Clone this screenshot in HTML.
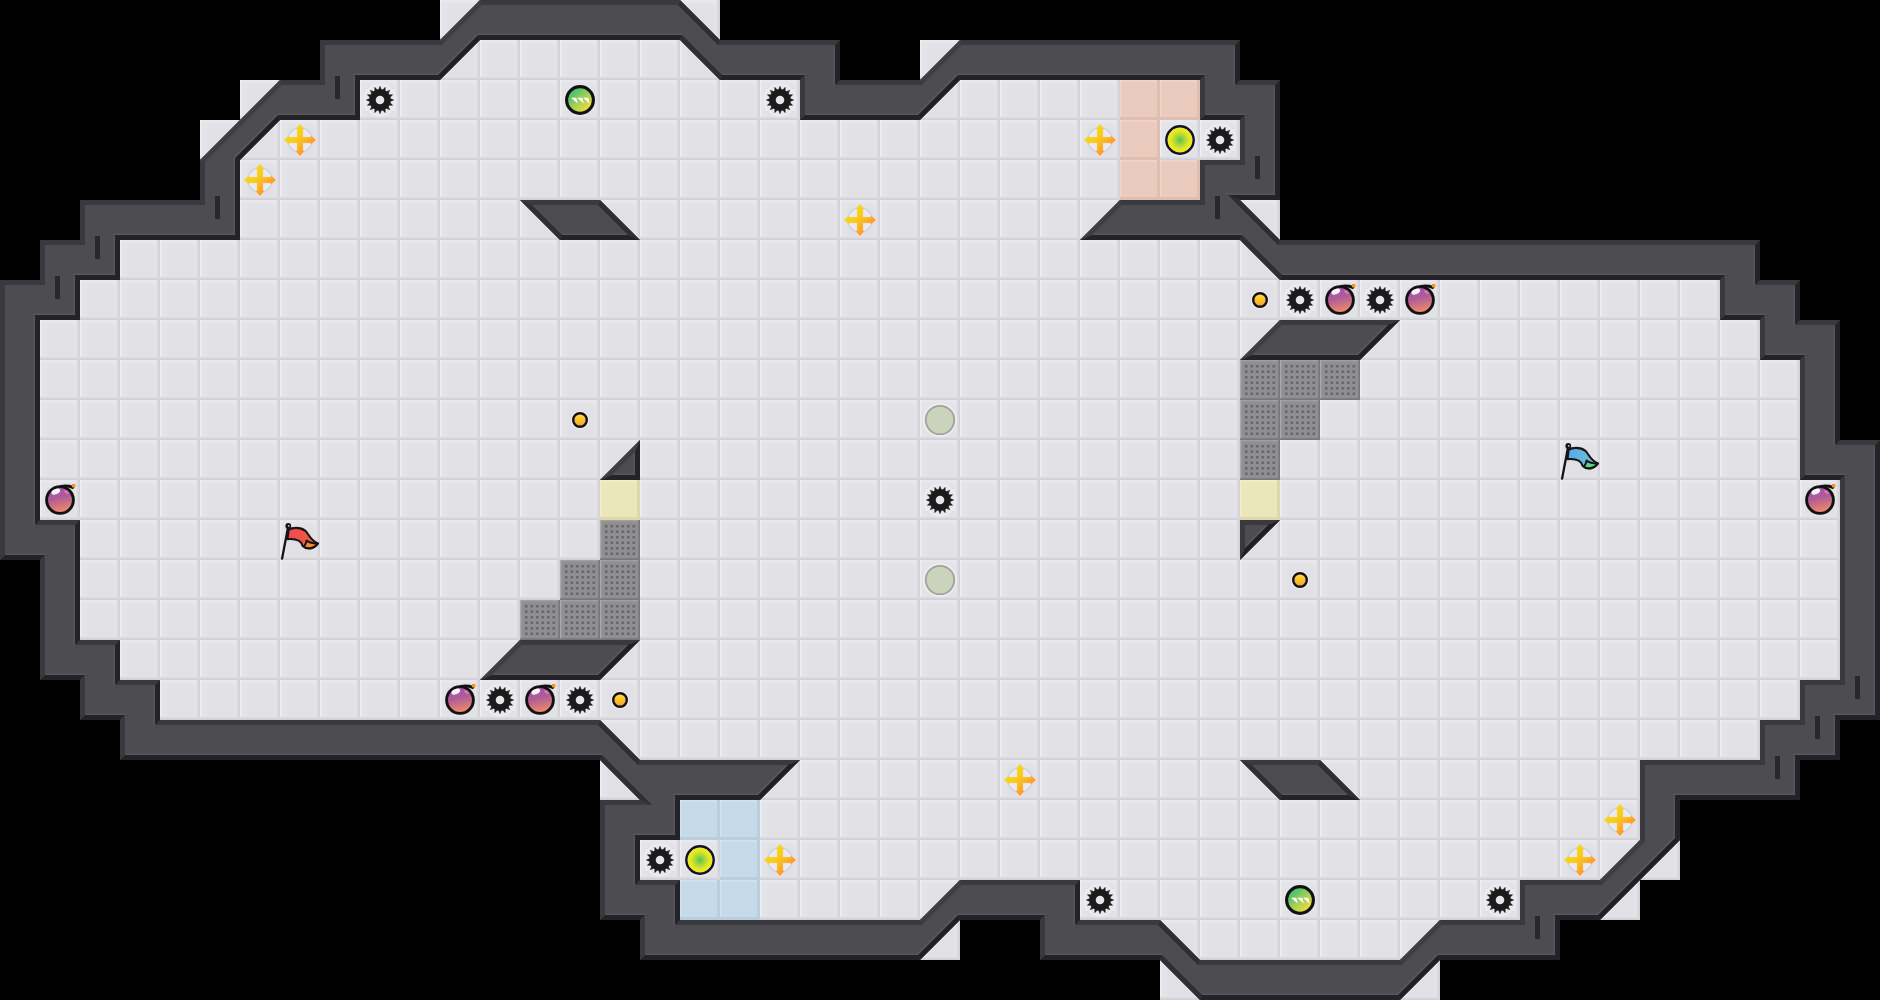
<!DOCTYPE html>
<html lang="en"><head><meta charset="utf-8"><title>Map</title>
<style>html,body{margin:0;padding:0;background:#000;overflow:hidden}svg{display:block}</style></head>
<body>
<svg width="1880" height="1000" viewBox="0 0 1880 1000">
<defs>
<linearGradient id="gR" x1="0" x2="1" y1="0" y2="0"><stop offset="0" stop-color="#e1e0e5"/><stop offset="1" stop-color="#cecdd3"/></linearGradient>
<linearGradient id="gB" x1="0" x2="0" y1="0" y2="1"><stop offset="0" stop-color="#e1e0e5"/><stop offset="1" stop-color="#cecdd3"/></linearGradient>
<pattern id="fl" width="40" height="40" patternUnits="userSpaceOnUse">
<rect width="40" height="40" fill="#e4e3e8"/>
<rect x="7" y="7.5" width="26.5" height="27" fill="#e1e0e5"/>
<rect width="40" height="2.5" fill="#e9e8ee"/>
<rect width="1.5" height="40" fill="#ededf2"/>
<rect x="36.5" width="3.5" height="40" fill="url(#gR)"/>
<rect y="36.5" width="40" height="3.5" fill="url(#gB)"/>
</pattern>
<pattern id="tr" width="40" height="40" patternUnits="userSpaceOnUse">
<rect width="40" height="40" fill="#ebcbbd"/>
<rect width="40" height="2" fill="#f0d3c6"/><rect width="1.5" height="40" fill="#f1d5c9"/>
<rect x="37" width="3" height="40" fill="#e0bfb1"/><rect y="37" width="40" height="3" fill="#e0bfb1"/>
</pattern>
<pattern id="tb" width="40" height="40" patternUnits="userSpaceOnUse">
<rect width="40" height="40" fill="#c6dae9"/>
<rect width="40" height="2" fill="#cfe1ee"/><rect width="1.5" height="40" fill="#d2e3ef"/>
<rect x="37" width="3" height="40" fill="#b9cede"/><rect y="37" width="40" height="3" fill="#b9cede"/>
</pattern>
<pattern id="ty" width="40" height="40" patternUnits="userSpaceOnUse">
<rect width="40" height="40" fill="#eae7ba"/>
<rect width="40" height="2" fill="#f0edc6"/><rect width="1.5" height="40" fill="#f1eec9"/>
<rect x="37" width="3" height="40" fill="#dcd9ac"/><rect y="37" width="40" height="3" fill="#dcd9ac"/>
</pattern>
<pattern id="tg" width="40" height="40" patternUnits="userSpaceOnUse">
<rect width="40" height="40" fill="#8f8f92"/>
<rect width="40" height="1.4" fill="#a0a0a3"/><rect width="1.5" height="40" fill="#a8a8ab"/>
<rect x="38.4" width="1.6" height="40" fill="#77777a"/><rect y="38.4" width="40" height="1.6" fill="#77777a"/>
<path id="dr" d="M5 5h2.6v2.6h-2.6zM10.5 5h2.6v2.6h-2.6zM16 5h2.6v2.6h-2.6zM21.5 5h2.6v2.6h-2.6zM27 5h2.6v2.6h-2.6zM32.5 5h2.6v2.6h-2.6z" fill="#68686c"/>
<use href="#dr" y="5.5"/><use href="#dr" y="11"/><use href="#dr" y="16.5"/><use href="#dr" y="22"/><use href="#dr" y="27.5"/>
</pattern>
<linearGradient id="gbomb" x1="0" x2="0.25" y1="0" y2="1"><stop offset="0" stop-color="#9a50b4"/><stop offset="0.5" stop-color="#ae5c98"/><stop offset="1" stop-color="#ee8668"/></linearGradient>
<linearGradient id="gcross" gradientUnits="userSpaceOnUse" x1="-9" y1="-9" x2="9" y2="9"><stop offset="0" stop-color="#f5d916"/><stop offset="0.45" stop-color="#f8c81c"/><stop offset="1" stop-color="#ff9420"/></linearGradient>
<linearGradient id="ggb" x1="0.15" x2="0.85" y1="0.1" y2="0.9"><stop offset="0" stop-color="#2fbf7a"/><stop offset="0.55" stop-color="#a8cf55"/><stop offset="1" stop-color="#fbe03a"/></linearGradient>
<radialGradient id="gyb" cx="0.5" cy="0.5" r="0.5"><stop offset="0" stop-color="#58c050"/><stop offset="0.35" stop-color="#a6d63c"/><stop offset="0.68" stop-color="#e4e824"/><stop offset="1" stop-color="#f1ee20"/></radialGradient>
<linearGradient id="gsm" x1="0" x2="0" y1="0" y2="1"><stop offset="0" stop-color="#ffe23a"/><stop offset="1" stop-color="#f5a21e"/></linearGradient>
<linearGradient id="grf" x1="0" x2="1" y1="0" y2="0"><stop offset="0" stop-color="#f24852"/><stop offset="1" stop-color="#f0603c"/></linearGradient>
<linearGradient id="gbf" x1="0" x2="1" y1="0" y2="0"><stop offset="0" stop-color="#58a8ec"/><stop offset="1" stop-color="#70c4cc"/></linearGradient>

<g id="spike"><circle r="17" fill="#fff" opacity="0.28"/><path d="M-1.44 -10.1 0 -13.7 1.44 -10.1ZM2.54 -9.88 5.24 -12.66 5.19 -8.78ZM6.12 -8.16 9.69 -9.69 8.16 -6.12ZM8.78 -5.19 12.66 -5.24 9.88 -2.54ZM10.1 -1.44 13.7 0 10.1 1.44ZM9.88 2.54 12.66 5.24 8.78 5.19ZM8.16 6.12 9.69 9.69 6.12 8.16ZM5.19 8.78 5.24 12.66 2.54 9.88ZM1.44 10.1 0 13.7 -1.44 10.1ZM-2.54 9.88 -5.24 12.66 -5.19 8.78ZM-6.12 8.16 -9.69 9.69 -8.16 6.12ZM-8.78 5.19 -12.66 5.24 -9.88 2.54ZM-10.1 1.44 -13.7 0 -10.1 -1.44ZM-9.88 -2.54 -12.66 -5.24 -8.78 -5.19ZM-8.16 -6.12 -9.69 -9.69 -6.12 -8.16ZM-5.19 -8.78 -5.24 -12.66 -2.54 -9.88Z" fill="#1b1b1c" stroke="#1b1b1c" stroke-width="0.5" stroke-linejoin="round"/><circle r="10.7" fill="#1b1b1c"/><circle r="4.3" fill="#e6e5ea"/></g>
<g id="bomb"><circle r="15.5" fill="#fff" opacity="0.15"/><path d="M1 -13.6Q8 -14.6 12.6 -12.6" fill="none" stroke="#111" stroke-width="3" stroke-linecap="round"/><circle r="13.4" fill="url(#gbomb)" stroke="#111112" stroke-width="2.9"/><ellipse cx="-4.2" cy="-8.4" rx="4.6" ry="2.6" transform="rotate(-24 -4.2 -8.4)" fill="#fff" opacity="0.95"/><ellipse cx="6.5" cy="-8" rx="2.6" ry="1.6" transform="rotate(35 6.5 -8)" fill="#ee7fb0" opacity="0.8"/><rect x="12" y="-16" width="3.4" height="3.4" fill="#f7941d"/></g>
<g id="cross"><circle r="12.2" fill="#e9e9f2" stroke="#d3d3dc" stroke-width="1.6"/><path d="M-2.7 -2.7 -2.7 -11.6 -3.9 -11 0 -15.7 3.9 -11 2.7 -11.6 2.7 -2.7 2.7 -2.7 11.6 -2.7 11 -3.9 15.7 0 11 3.9 11.6 2.7 2.7 2.7 2.7 2.7 2.7 11.6 3.9 11 0 15.7 -3.9 11 -2.7 11.6 -2.7 2.7 -2.7 2.7 -11.6 2.7 -11 3.9 -15.7 0 -11 -3.9 -11.6 -2.7 -2.7 -2.7Z" fill="url(#gcross)" stroke="url(#gcross)" stroke-width="0.6" stroke-linejoin="round"/><circle r="1.6" fill="#eed21a" stroke="#f9b23a" stroke-width="0.9"/></g>
<g id="gball"><circle r="16" fill="#fff" opacity="0.2"/><circle r="13.4" fill="url(#ggb)" stroke="#121212" stroke-width="3.2"/><path d="M-9 -2.2h5.2l1.6 5.6zM-3 -2.2h5.2l1.6 5.6zM3 -2.2h5.2l1.4 5.6z" fill="#fff"/></g>
<g id="yball"><circle r="16.5" fill="#fff" opacity="0.2"/><circle r="13.7" fill="url(#gyb)" stroke="#14102a" stroke-width="2.4"/></g>
<g id="small"><circle r="9.5" fill="#fff" opacity="0.25"/><circle r="6.8" fill="url(#gsm)" stroke="#14121c" stroke-width="2.4"/></g>
<g id="faded"><circle r="16.3" fill="none" stroke="#f0f0f6" stroke-width="1.6" opacity="0.8"/><circle r="14.2" fill="#cbd3ba" stroke="#a2a3a0" stroke-width="1.8"/></g>
<g id="rflag"><path d="M8.6 9.9C12 7.4 20 6.6 25.4 10.8C29 14 29.6 20 38 23.4C34.5 28.8 27 30.4 22.7 26C21.6 21.6 17 18.4 7.5 19.2Z" fill="url(#grf)" stroke="#151515" stroke-width="2.1" stroke-linejoin="round"/><path d="M26.6 20.4C29 22.4 33 23.4 37.6 23.5C34 28.4 28 29.6 24 26.4C25.6 24.6 26.4 22.6 26.6 20.4Z" fill="#f58a2a" stroke="#151515" stroke-width="1.9" stroke-linejoin="round"/><path d="M8.2 6.5L2.1 38.5" stroke="#151515" stroke-width="2.3" stroke-linecap="round"/><circle cx="8.3" cy="5.9" r="2.9" fill="#151515"/><circle cx="8.7" cy="5.9" r="0.8" fill="#ddd"/></g>
<g id="bflag"><path d="M8.6 9.9C12 7.4 20 6.6 25.4 10.8C29 14 29.6 20 38 23.4C34.5 28.8 27 30.4 22.7 26C21.6 21.6 17 18.4 7.5 19.2Z" fill="url(#gbf)" stroke="#151515" stroke-width="2.1" stroke-linejoin="round"/><path d="M26.6 20.4C29 22.4 33 23.4 37.6 23.5C34 28.4 28 29.6 24 26.4C25.6 24.6 26.4 22.6 26.6 20.4Z" fill="#5fd384" stroke="#151515" stroke-width="1.9" stroke-linejoin="round"/><path d="M8.2 6.5L2.1 38.5" stroke="#151515" stroke-width="2.3" stroke-linecap="round"/><circle cx="8.3" cy="5.9" r="2.9" fill="#151515"/><circle cx="8.7" cy="5.9" r="0.8" fill="#ddd"/></g>
</defs>
<rect width="1880" height="1000" fill="#000"/>
<path d="M440 0h40v40h-40zM680 0h40v40h-40zM440 40h280v40h-280zM920 40h40v40h-40zM240 80h40v40h-40zM360 80h440v40h-440zM920 80h200v40h-200zM200 120h920v40h-920zM1160 120h80v40h-80zM240 160h880v40h-880zM240 200h320v40h-320zM600 200h520v40h-520zM1240 200h40v40h-40zM120 240h1160v40h-1160zM80 280h1640v40h-1640zM40 320h1240v40h-1240zM1360 320h400v40h-400zM40 360h1200v40h-1200zM1360 360h440v40h-440zM40 400h1200v40h-1200zM1320 400h480v40h-480zM40 440h1200v40h-1200zM1280 440h520v40h-520zM40 480h560v40h-560zM640 480h600v40h-600zM1280 480h560v40h-560zM80 520h520v40h-520zM640 520h1200v40h-1200zM80 560h480v40h-480zM640 560h1200v40h-1200zM80 600h440v40h-440zM640 600h1200v40h-1200zM120 640h400v40h-400zM600 640h1240v40h-1240zM160 680h1640v40h-1640zM600 720h1160v40h-1160zM600 760h40v40h-40zM760 760h520v40h-520zM1320 760h320v40h-320zM760 800h880v40h-880zM640 840h80v40h-80zM760 840h920v40h-920zM760 880h200v40h-200zM1080 880h440v40h-440zM1600 880h40v40h-40zM920 920h40v40h-40zM1160 920h280v40h-280zM1160 960h40v40h-40zM1400 960h40v40h-40z" fill="url(#fl)"/>
<path d="M1120 80h80v40h-80zM1120 120h40v40h-40zM1120 160h80v40h-80z" fill="url(#tr)"/>
<path d="M680 800h80v40h-80zM720 840h40v40h-40zM680 880h80v40h-80z" fill="url(#tb)"/>
<path d="M600 480h40v40h-40zM1240 480h40v40h-40z" fill="url(#ty)"/>
<path d="M1240 360h120v40h-120zM1240 400h80v40h-80zM1240 440h40v40h-40zM600 520h40v40h-40zM560 560h80v40h-80zM520 600h120v40h-120z" fill="url(#tg)"/>
<path d="M200 200 80 200 80 240 40 240 40 280 0 280 0 560 40 560 40 680 80 680 80 720 120 720 120 760 600 760 640 800 600 800 600 920 640 920 640 960 920 960 960 920 1040 920 1040 960 1160 960 1200 1000 1400 1000 1440 960 1560 960 1560 920 1600 920 1680 840 1680 800 1800 800 1800 760 1840 760 1840 720 1880 720 1880 440 1840 440 1840 320 1800 320 1800 280 1760 280 1760 240 1280 240 1240 200 1280 200 1280 80 1240 80 1240 40 960 40 920 80 840 80 840 40 720 40 680 0 480 0 440 40 320 40 320 80 280 80 200 160ZM680 880 640 880 640 840 680 840 680 800 760 800 800 760 640 760 600 720 160 720 160 680 120 680 120 640 80 640 80 520 40 520 40 320 80 320 80 280 120 280 120 240 240 240 240 160 280 120 360 120 360 80 440 80 480 40 680 40 720 80 800 80 800 120 920 120 960 80 1200 80 1200 120 1240 120 1240 160 1200 160 1200 200 1120 200 1080 240 1240 240 1280 280 1720 280 1720 320 1760 320 1760 360 1800 360 1800 480 1840 480 1840 680 1800 680 1800 720 1760 720 1760 760 1640 760 1640 840 1600 880 1520 880 1520 920 1440 920 1400 960 1200 960 1160 920 1080 920 1080 880 960 880 920 920 680 920ZM520 200 560 240 640 240 600 200ZM600 480 640 480 640 440ZM520 640 480 680 600 680 640 640ZM1240 360 1360 360 1400 320 1280 320ZM1280 520 1240 520 1240 560ZM1280 800 1320 800 1360 800 1320 760 1240 760Z" fill="#4d4c51"/>
<path d="M960 40 920 80 922.07 85 962.07 45ZM480 0 440 40 442.07 45 482.07 5ZM280 80 200 160 205 162.07 282.07 85ZM1120 200 1080 240 1092.07 235 1122.07 205ZM1640 840 1600 880 1602.07 885 1645 842.07ZM1440 920 1400 960 1402.07 965 1442.07 925ZM960 880 920 920 922.07 925 962.07 885ZM640 440 600 480 612.07 475 635 452.07ZM520 640 480 680 492.07 675 522.07 645ZM1280 320 1240 360 1252.07 355 1282.07 325Z" fill="#3f3e43"/>
<path d="M200 200 80 200 85 205 205 205ZM80 200 80 240 85 245 85 205ZM80 240 40 240 45 245 85 245ZM40 240 40 280 45 285 45 245ZM40 280 0 280 5 285 45 285ZM0 280 0 560 5 555 5 285ZM40 560 40 680 45 675 45 555ZM80 680 80 720 85 715 85 675ZM120 720 120 760 125 755 125 715ZM640 800 600 800 605 805 652.07 805ZM600 800 600 920 605 915 605 805ZM640 920 640 960 645 955 645 915ZM1040 920 1040 960 1045 955 1045 915ZM1880 440 1840 440 1835 445 1875 445ZM1840 320 1800 320 1795 325 1835 325ZM1800 280 1760 280 1755 285 1795 285ZM1760 240 1280 240 1277.93 245 1755 245ZM1280 80 1240 80 1235 85 1275 85ZM1240 40 960 40 962.07 45 1235 45ZM920 80 840 80 835 85 922.07 85ZM840 40 720 40 717.93 45 835 45ZM680 0 480 0 482.07 5 677.93 5ZM440 40 320 40 325 45 442.07 45ZM320 40 320 80 325 85 325 45ZM320 80 280 80 282.07 85 325 85ZM200 160 200 200 205 205 205 162.07ZM680 880 640 880 635 885 675 885ZM800 760 640 760 637.93 765 787.93 765ZM600 720 160 720 155 725 597.93 725ZM160 680 120 680 115 685 155 685ZM120 640 80 640 75 645 115 645ZM80 520 40 520 35 525 75 525ZM800 80 800 120 805 115 805 75ZM1200 80 1200 120 1205 115 1205 75ZM1240 120 1240 160 1245 165 1245 115ZM1240 160 1200 160 1205 165 1245 165ZM1200 160 1200 200 1205 205 1205 165ZM1200 200 1120 200 1122.07 205 1205 205ZM1720 280 1720 320 1725 315 1725 275ZM1760 320 1760 360 1765 355 1765 315ZM1800 360 1800 480 1805 475 1805 355ZM1840 480 1840 680 1845 685 1845 475ZM1840 680 1800 680 1805 685 1845 685ZM1800 680 1800 720 1805 725 1805 685ZM1800 720 1760 720 1765 725 1805 725ZM1760 720 1760 760 1765 765 1765 725ZM1760 760 1640 760 1645 765 1765 765ZM1640 760 1640 840 1645 842.07 1645 765ZM1600 880 1520 880 1525 885 1602.07 885ZM1520 880 1520 920 1525 925 1525 885ZM1520 920 1440 920 1442.07 925 1525 925ZM1400 960 1200 960 1197.93 965 1402.07 965ZM1160 920 1080 920 1075 925 1157.93 925ZM1080 880 960 880 962.07 885 1075 885ZM920 920 680 920 675 925 922.07 925ZM600 200 520 200 532.07 205 597.93 205ZM640 640 520 640 522.07 645 627.93 645ZM1400 320 1280 320 1282.07 325 1387.93 325ZM1280 520 1240 520 1245 525 1267.93 525ZM1240 520 1240 560 1245 547.93 1245 525ZM1320 760 1240 760 1252.07 765 1317.93 765Z" fill="#3a393e"/>
<path d="M600 760 640 800 652.07 805 602.07 755ZM1160 960 1200 1000 1202.07 995 1162.07 955ZM1280 240 1240 200 1227.93 195 1277.93 245ZM720 40 680 0 677.93 5 717.93 45ZM640 760 600 720 597.93 725 637.93 765ZM680 40 720 80 722.07 75 682.07 35ZM1240 240 1280 280 1282.07 275 1242.07 235ZM1200 960 1160 920 1157.93 925 1197.93 965ZM520 200 560 240 562.07 235 532.07 205ZM640 240 600 200 597.93 205 627.93 235ZM1360 800 1320 760 1317.93 765 1347.93 795ZM1240 760 1280 800 1282.07 795 1252.07 765Z" fill="#2f2e33"/>
<path d="M0 560 40 560 45 555 5 555ZM40 680 80 680 85 675 45 675ZM80 720 120 720 125 715 85 715ZM120 760 600 760 602.07 755 125 755ZM600 920 640 920 645 915 605 915ZM640 960 920 960 917.93 955 645 955ZM960 920 1040 920 1045 915 957.93 915ZM1040 960 1160 960 1162.07 955 1045 955ZM1200 1000 1400 1000 1397.93 995 1202.07 995ZM1440 960 1560 960 1555 955 1437.93 955ZM1560 960 1560 920 1555 915 1555 955ZM1560 920 1600 920 1597.93 915 1555 915ZM1680 840 1680 800 1675 795 1675 837.93ZM1680 800 1800 800 1795 795 1675 795ZM1800 800 1800 760 1795 755 1795 795ZM1800 760 1840 760 1835 755 1795 755ZM1840 760 1840 720 1835 715 1835 755ZM1840 720 1880 720 1875 715 1835 715ZM1880 720 1880 440 1875 445 1875 715ZM1840 440 1840 320 1835 325 1835 445ZM1800 320 1800 280 1795 285 1795 325ZM1760 280 1760 240 1755 245 1755 285ZM1240 200 1280 200 1275 195 1227.93 195ZM1280 200 1280 80 1275 85 1275 195ZM1240 80 1240 40 1235 45 1235 85ZM840 80 840 40 835 45 835 85ZM640 880 640 840 635 835 635 885ZM640 840 680 840 675 835 635 835ZM680 840 680 800 675 795 675 835ZM680 800 760 800 757.93 795 675 795ZM160 720 160 680 155 685 155 725ZM120 680 120 640 115 645 115 685ZM80 640 80 520 75 525 75 645ZM40 520 40 320 35 315 35 525ZM40 320 80 320 75 315 35 315ZM80 320 80 280 75 275 75 315ZM80 280 120 280 115 275 75 275ZM120 280 120 240 115 235 115 275ZM120 240 240 240 235 235 115 235ZM240 240 240 160 235 157.93 235 235ZM280 120 360 120 355 115 277.93 115ZM360 120 360 80 355 75 355 115ZM360 80 440 80 437.93 75 355 75ZM480 40 680 40 682.07 35 477.93 35ZM720 80 800 80 805 75 722.07 75ZM800 120 920 120 917.93 115 805 115ZM960 80 1200 80 1205 75 957.93 75ZM1200 120 1240 120 1245 115 1205 115ZM1080 240 1240 240 1242.07 235 1092.07 235ZM1280 280 1720 280 1725 275 1282.07 275ZM1720 320 1760 320 1765 315 1725 315ZM1760 360 1800 360 1805 355 1765 355ZM1800 480 1840 480 1845 475 1805 475ZM1080 920 1080 880 1075 885 1075 925ZM680 920 680 880 675 885 675 925ZM560 240 640 240 627.93 235 562.07 235ZM600 480 640 480 635 475 612.07 475ZM640 480 640 440 635 452.07 635 475ZM480 680 600 680 597.93 675 492.07 675ZM1240 360 1360 360 1357.93 355 1252.07 355ZM1280 800 1320 800 1320 795 1282.07 795ZM1320 800 1360 800 1347.93 795 1320 795Z" fill="#242328"/>
<path d="M920 960 960 920 957.93 915 917.93 955ZM1400 1000 1440 960 1437.93 955 1397.93 995ZM1600 920 1680 840 1675 837.93 1597.93 915ZM760 800 800 760 787.93 765 757.93 795ZM240 160 280 120 277.93 115 235 157.93ZM440 80 480 40 477.93 35 437.93 75ZM920 120 960 80 957.93 75 917.93 115ZM600 680 640 640 627.93 645 597.93 675ZM1360 360 1400 320 1387.93 325 1357.93 355ZM1240 560 1280 520 1267.93 525 1245 547.93Z" fill="#201f24"/>
<path d="M5 555 45 555 46.6 553.4 6.6 553.4ZM45 675 85 675 86.6 673.4 46.6 673.4ZM85 715 125 715 126.6 713.4 86.6 713.4ZM125 755 602.07 755 602.73 753.4 126.6 753.4ZM605 915 645 915 646.6 913.4 606.6 913.4ZM645 955 917.93 955 917.27 953.4 646.6 953.4ZM917.93 955 957.93 915 957.27 913.4 917.27 953.4ZM957.93 915 1045 915 1046.6 913.4 957.27 913.4ZM1045 955 1162.07 955 1162.73 953.4 1046.6 953.4ZM1202.07 995 1397.93 995 1397.27 993.4 1202.73 993.4ZM1397.93 995 1437.93 955 1437.27 953.4 1397.27 993.4ZM1437.93 955 1555 955 1553.4 953.4 1437.27 953.4ZM1555 955 1555 915 1553.4 913.4 1553.4 953.4ZM1555 915 1597.93 915 1597.27 913.4 1553.4 913.4ZM1597.93 915 1675 837.93 1673.4 837.27 1597.27 913.4ZM1675 837.93 1675 795 1673.4 793.4 1673.4 837.27ZM1675 795 1795 795 1793.4 793.4 1673.4 793.4ZM1795 795 1795 755 1793.4 753.4 1793.4 793.4ZM1795 755 1835 755 1833.4 753.4 1793.4 753.4ZM1835 755 1835 715 1833.4 713.4 1833.4 753.4ZM1835 715 1875 715 1873.4 713.4 1833.4 713.4ZM1875 715 1875 445 1873.4 446.6 1873.4 713.4ZM1835 445 1835 325 1833.4 326.6 1833.4 446.6ZM1795 325 1795 285 1793.4 286.6 1793.4 326.6ZM1755 285 1755 245 1753.4 246.6 1753.4 286.6ZM1227.93 195 1275 195 1273.4 193.4 1224.07 193.4ZM1275 195 1275 85 1273.4 86.6 1273.4 193.4ZM1235 85 1235 45 1233.4 46.6 1233.4 86.6ZM835 85 835 45 833.4 46.6 833.4 86.6ZM635 885 635 835 633.4 833.4 633.4 886.6ZM635 835 675 835 673.4 833.4 633.4 833.4ZM675 835 675 795 673.4 793.4 673.4 833.4ZM675 795 757.93 795 757.27 793.4 673.4 793.4ZM757.93 795 787.93 765 784.07 766.6 757.27 793.4ZM155 725 155 685 153.4 686.6 153.4 726.6ZM115 685 115 645 113.4 646.6 113.4 686.6ZM75 645 75 525 73.4 526.6 73.4 646.6ZM35 525 35 315 33.4 313.4 33.4 526.6ZM35 315 75 315 73.4 313.4 33.4 313.4ZM75 315 75 275 73.4 273.4 73.4 313.4ZM75 275 115 275 113.4 273.4 73.4 273.4ZM115 275 115 235 113.4 233.4 113.4 273.4ZM115 235 235 235 233.4 233.4 113.4 233.4ZM235 235 235 157.93 233.4 157.27 233.4 233.4ZM235 157.93 277.93 115 277.27 113.4 233.4 157.27ZM277.93 115 355 115 353.4 113.4 277.27 113.4ZM355 115 355 75 353.4 73.4 353.4 113.4ZM355 75 437.93 75 437.27 73.4 353.4 73.4ZM437.93 75 477.93 35 477.27 33.4 437.27 73.4ZM477.93 35 682.07 35 682.73 33.4 477.27 33.4ZM722.07 75 805 75 806.6 73.4 722.73 73.4ZM805 115 917.93 115 917.27 113.4 806.6 113.4ZM917.93 115 957.93 75 957.27 73.4 917.27 113.4ZM957.93 75 1205 75 1206.6 73.4 957.27 73.4ZM1205 115 1245 115 1246.6 113.4 1206.6 113.4ZM1092.07 235 1242.07 235 1242.73 233.4 1095.93 233.4ZM1282.07 275 1725 275 1726.6 273.4 1282.73 273.4ZM1725 315 1765 315 1766.6 313.4 1726.6 313.4ZM1765 355 1805 355 1806.6 353.4 1766.6 353.4ZM1805 475 1845 475 1846.6 473.4 1806.6 473.4ZM1075 925 1075 885 1073.4 886.6 1073.4 926.6ZM675 925 675 885 673.4 886.6 673.4 926.6ZM562.07 235 627.93 235 624.07 233.4 562.73 233.4ZM612.07 475 635 475 633.4 473.4 615.93 473.4ZM635 475 635 452.07 633.4 455.93 633.4 473.4ZM492.07 675 597.93 675 597.27 673.4 495.93 673.4ZM597.93 675 627.93 645 624.07 646.6 597.27 673.4ZM1252.07 355 1357.93 355 1357.27 353.4 1255.93 353.4ZM1357.93 355 1387.93 325 1384.07 326.6 1357.27 353.4ZM1245 547.93 1267.93 525 1264.07 526.6 1246.6 544.07ZM1282.07 795 1320 795 1320 793.4 1282.73 793.4ZM1320 795 1347.93 795 1344.07 793.4 1320 793.4Z" fill="#58575c"/>
<path d="M335 76h5v23h-5zM1255 156h5v23h-5zM215 196h5v23h-5zM1215 196h5v23h-5zM95 236h5v23h-5zM55 276h5v23h-5zM1855 676h5v23h-5zM1815 716h5v23h-5zM1775 756h5v23h-5zM1535 916h5v23h-5z" fill="#28272c"/>
<use href="#spike" x="380" y="100"/>
<use href="#spike" x="780" y="100"/>
<use href="#spike" x="1220" y="140"/>
<use href="#spike" x="1300" y="300"/>
<use href="#spike" x="1380" y="300"/>
<use href="#spike" x="940" y="500"/>
<use href="#spike" x="500" y="700"/>
<use href="#spike" x="580" y="700"/>
<use href="#spike" x="660" y="860"/>
<use href="#spike" x="1100" y="900"/>
<use href="#spike" x="1500" y="900"/>
<use href="#bomb" x="1340" y="300"/>
<use href="#bomb" x="1420" y="300"/>
<use href="#bomb" x="60" y="500"/>
<use href="#bomb" x="1820" y="500"/>
<use href="#bomb" x="460" y="700"/>
<use href="#bomb" x="540" y="700"/>
<use href="#gball" x="580" y="100"/>
<use href="#gball" x="1300" y="900"/>
<use href="#yball" x="1180" y="140"/>
<use href="#yball" x="700" y="860"/>
<use href="#cross" x="300" y="140"/>
<use href="#cross" x="260" y="180"/>
<use href="#cross" x="1100" y="140"/>
<use href="#cross" x="860" y="220"/>
<use href="#cross" x="1020" y="780"/>
<use href="#cross" x="780" y="860"/>
<use href="#cross" x="1620" y="820"/>
<use href="#cross" x="1580" y="860"/>
<use href="#small" x="1260" y="300"/>
<use href="#small" x="580" y="420"/>
<use href="#small" x="620" y="700"/>
<use href="#small" x="1300" y="580"/>
<use href="#faded" x="940" y="420"/>
<use href="#faded" x="940" y="580"/>
<use href="#rflag" x="280" y="520"/>
<use href="#bflag" x="1560" y="440"/>
</svg>
</body></html>
